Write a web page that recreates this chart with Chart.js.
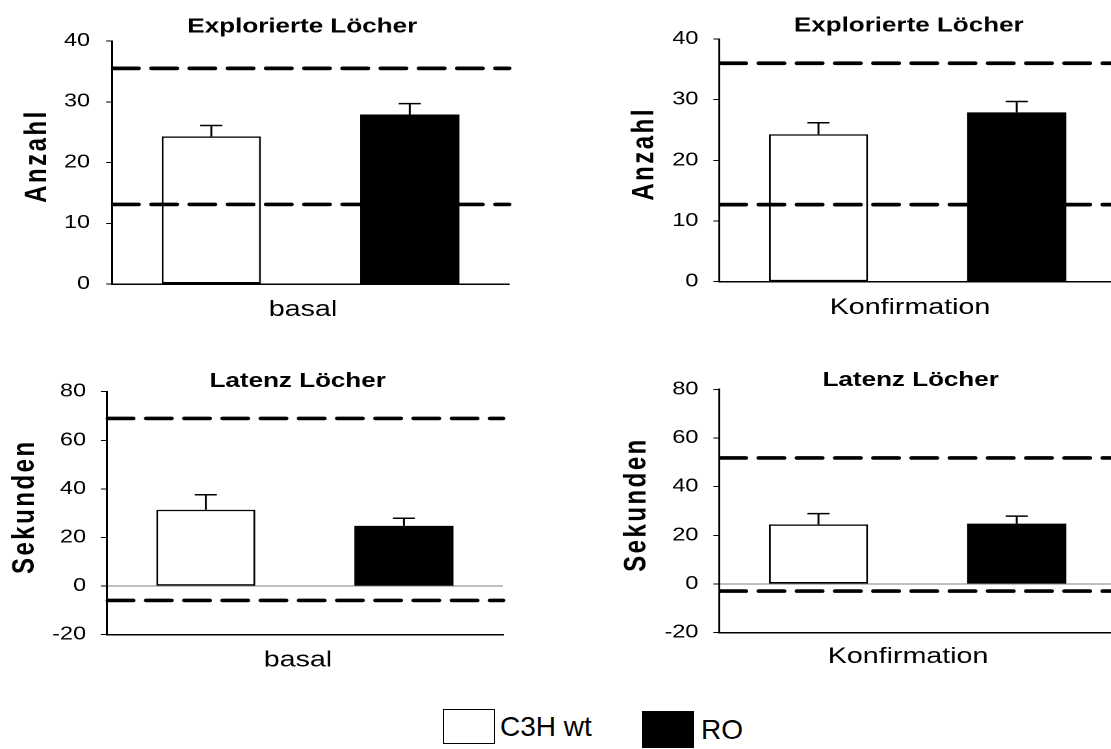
<!DOCTYPE html>
<html>
<head>
<meta charset="utf-8">
<script src="https://cdn.jsdelivr.net/npm/chart.js@4.4.1/dist/chart.umd.min.js"></script>
<style>
  html, body { margin: 0; padding: 0; background: #fff; }
  body { width: 1111px; height: 749px; overflow: hidden; position: relative; font-family: Arial, "Liberation Sans", sans-serif; }
  .panel { position: absolute; transform: scaleX(1.3); transform-origin: 0 0; }
  .legend-box { position: absolute; box-sizing: border-box; }
  .legend-text { position: absolute; font-size: 28px; color: #000; white-space: nowrap; }
</style>
</head>
<body>
<div class="panel" style="left:0px;top:0px"><canvas id="c1" width="465" height="330"></canvas></div>
<div class="panel" style="left:600px;top:0px"><canvas id="c2" width="475" height="330"></canvas></div>
<div class="panel" style="left:0px;top:340px"><canvas id="c3" width="458" height="340"></canvas></div>
<div class="panel" style="left:600px;top:340px"><canvas id="c4" width="478" height="340"></canvas></div>

<div class="legend-box" style="left:443px;top:709px;width:52px;height:35px;border:1px solid #000;background:#fff"></div>
<div class="legend-text" id="lg1" style="left:500px;top:709px;line-height:35px"></div>
<div class="legend-box" style="left:642px;top:711px;width:52px;height:37px;background:#000"></div>
<div class="legend-text" id="lg2" style="left:701px;top:711px;line-height:37px"></div>

<script>
// groups (legend / datasets)
const groups = ['C3H wt', 'RO'];

// Explorierte Löcher - basal
const exploredBasal = [24.3, 27.9];
const exploredBasalErr = [1.8, 1.8];
const exploredBasalRef = [35.5, 13.1];

// Explorierte Löcher - Konfirmation
const exploredConf = [24.3, 27.9];
const exploredConfErr = [1.9, 1.8];
const exploredConfRef = [36.0, 12.7];

// Latenz Löcher - basal
const latencyBasal = [31.4, 24.8];
const latencyBasalErr = [6.2, 3.1];
const latencyBasalRef = [69.0, -5.9];

// Latenz Löcher - Konfirmation
const latencyConf = [24.5, 24.8];
const latencyConfErr = [4.4, 3.1];
const latencyConfRef = [51.8, -2.9];

const exploredTitle = 'Explorierte Löcher';
const latencyTitle = 'Latenz Löcher';
const countLabel = 'Anzahl';
const secondsLabel = 'Sekunden';
const phases = ['basal', 'Konfirmation'];
const countTicks = { min: 0, max: 40, step: 10 };
const secondsTicks = { min: -20, max: 80, step: 20 };

Chart.defaults.font.family = 'Arial, "Liberation Sans", sans-serif';
Chart.defaults.color = '#000';

// draws the dashed reference lines and the upper error bars
const extrasPlugin = {
    id: 'extras',
    beforeDraw(chart) {
        // the y axis titles are letter-spaced in the original
        const s = chart.scales.y;
        if (s._spaced) return;
        const orig = s.drawTitle.bind(s);
        s.drawTitle = () => {
            const ctx = s.ctx;
            ctx.save();
            ctx.letterSpacing = '2.5px';
            ctx.translate(0, -6.5);
            orig();
            ctx.restore();
        };
        s._spaced = true;
    },
    afterDatasetsDraw(chart, args, opts) {
        const ctx = chart.ctx;
        const area = chart.chartArea;
        const y = chart.scales.y;
        ctx.save();
        // error bars (one per dataset)
        ctx.strokeStyle = '#000';
        ctx.lineWidth = 1.5;
        chart.data.datasets.forEach((ds, i) => {
            chart.getDatasetMeta(i).data.forEach((bar, j) => {
                const top = y.getPixelForValue(ds.data[j] + opts.err[i]);
                ctx.beginPath();
                ctx.moveTo(bar.x, bar.y);
                ctx.lineTo(bar.x, top);
                ctx.moveTo(bar.x - 8.5, top);
                ctx.lineTo(bar.x + 8.5, top);
                ctx.stroke();
            });
        });
        // reference lines
        ctx.lineWidth = 3.7;
        ctx.lineCap = 'round';
        ctx.setLineDash([19.3, 10.1]);
        opts.refs.forEach(v => {
            const py = y.getPixelForValue(v);
            ctx.beginPath();
            ctx.moveTo(area.left + 1, py);
            ctx.lineTo(area.right, py);
            ctx.stroke();
        });
        ctx.restore();
    }
};

function makePanel(id, p) {
    new Chart(document.getElementById(id), {
        type: 'bar',
        data: {
            labels: [p.phase],
            datasets: [
                { label: groups[0], data: [p.values[0]], backgroundColor: '#fff', borderColor: '#000', borderWidth: 1.5, borderSkipped: false },
                { label: groups[1], data: [p.values[1]], backgroundColor: '#000', borderColor: '#000', borderWidth: 0 }
            ]
        },
        options: {
            responsive: false,
            animation: false,
            devicePixelRatio: 2,
            categoryPercentage: 1,
            barPercentage: 0.5,
            layout: { padding: 0 },
            plugins: {
                legend: { display: false },
                tooltip: { enabled: false },
                title: { display: true, text: p.title, font: { size: 20, weight: 'bold', lineHeight: 0.8 }, padding: { top: p.titleTop, bottom: p.titleBottom } },
                extras: { err: p.errors, refs: p.refs }
            },
            scales: {
                x: {
                    type: 'category',
                    grid: { display: true, drawOnChartArea: false, drawTicks: false },
                    border: { color: '#000', width: 1.5 },
                    ticks: { font: { size: 22 }, padding: p.xPad, labelOffset: p.labelOffset },
                    afterFit: s => { s.height = p.xHeight; }
                },
                y: {
                    position: 'left',
                    min: p.ticks.min, max: p.ticks.max,
                    ticks: { stepSize: p.ticks.step, font: { size: 18 }, padding: p.tickPad },
                    grid: {
                        drawOnChartArea: p.ticks.min < 0,
                        color: c => (c.tick && c.tick.value === 0) ? '#7f7f7f' : 'rgba(0,0,0,0)',
                        tickColor: '#000', tickLength: 4.6, lineWidth: 1
                    },
                    border: { color: '#000', width: 1.5 },
                    title: { display: true, text: p.yTitle, font: { size: 24, weight: 'bold' }, padding: { top: p.yTitlePad, bottom: 0 } },
                    afterFit: s => { s.width = p.left; }
                },
                y2: {
                    position: 'right',
                    grid: { display: false, drawTicks: false },
                    ticks: { display: false },
                    border: { display: false },
                    afterFit: s => { s.width = p.right; }
                }
            }
        },
        plugins: [extrasPlugin]
    });
}

makePanel('c1', { phase: phases[0], title: exploredTitle, yTitle: countLabel, ticks: countTicks,
    values: exploredBasal, errors: exploredBasalErr, refs: exploredBasalRef,
    titleTop: 19, titleBottom: 6, xHeight: 46, xPad: 12.8, labelOffset: -5.8,
    tickPad: 12.3, yTitlePad: 14.4, left: 86.2, right: 73.5 });

makePanel('c2', { phase: phases[1], title: exploredTitle, yTitle: countLabel, ticks: countTicks,
    values: exploredConf, errors: exploredConfErr, refs: exploredConfRef,
    titleTop: 18, titleBottom: 5, xHeight: 48.3, xPad: 12.8, labelOffset: -5.8,
    tickPad: 11.6, yTitlePad: 20, left: 91.8, right: 78.2 });

makePanel('c3', { phase: phases[0], title: latencyTitle, yTitle: secondsLabel, ticks: secondsTicks,
    values: latencyBasal, errors: latencyBasalErr, refs: latencyBasalRef,
    titleTop: 33.5, titleBottom: 2.2, xHeight: 45.3, xPad: 12.6, labelOffset: -5.3,
    tickPad: 11.3, yTitlePad: 5.2, left: 82.1, right: 71.1 });

makePanel('c4', { phase: phases[1], title: latencyTitle, yTitle: secondsLabel, ticks: secondsTicks,
    values: latencyConf, errors: latencyConfErr, refs: latencyConfRef,
    titleTop: 32.5, titleBottom: 0.8, xHeight: 47.3, xPad: 10.8, labelOffset: -7.3,
    tickPad: 11.6, yTitlePad: 13.8, left: 91.8, right: 81.2 });

document.getElementById('lg1').textContent = groups[0];
document.getElementById('lg2').textContent = groups[1];
</script>
</body>
</html>
